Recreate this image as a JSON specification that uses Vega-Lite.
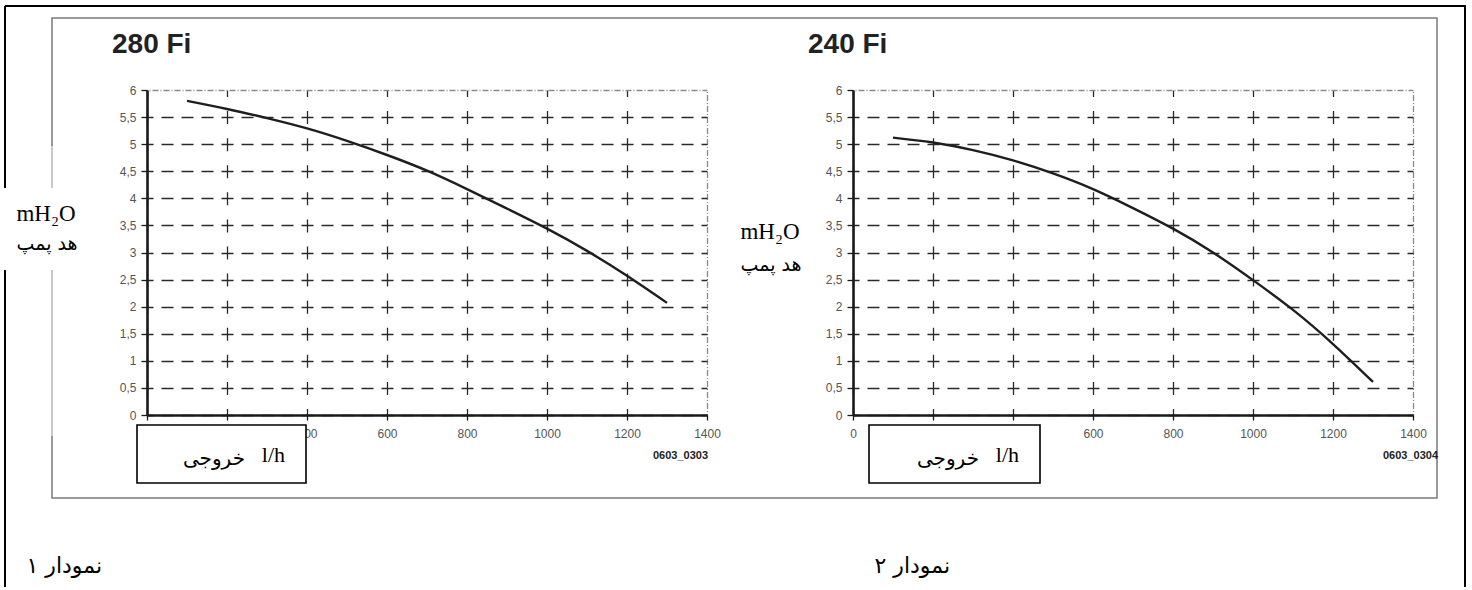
{
  "$schema": "https://vega.github.io/schema/vega-lite/v6.json",
  "background": "white",
  "padding": {"left": 4, "top": 4, "right": 0, "bottom": 0},
  "autosize": {"type": "pad"},
  "bounds": "flush",
  "spacing": 146,
  "config": {
    "view": {"stroke": null},
    "font": "Liberation Sans",
    "axis": {
      "grid": true,
      "gridWidth": 1.3,
      "domainColor": "#1a1a1a",
      "domainWidth": 2.6,
      "tickColor": "#1a1a1a",
      "tickWidth": 1.3,
      "labelColor": "#555555",
      "labelFont": "Liberation Sans",
      "labelFontSize": 12,
      "labelFlush": false,
      "labelOverlap": false
    },
    "axisX": {"tickSize": 5, "labelPadding": 8},
    "axisY": {"tickSize": 6, "labelPadding": 5}
  },
  "datasets": {
    "fi280": [
      {"q": 100, "h": 5.8},
      {"q": 200, "h": 5.65},
      {"q": 300, "h": 5.48},
      {"q": 400, "h": 5.29},
      {"q": 500, "h": 5.06},
      {"q": 600, "h": 4.8},
      {"q": 700, "h": 4.51},
      {"q": 800, "h": 4.17},
      {"q": 900, "h": 3.81},
      {"q": 1000, "h": 3.44},
      {"q": 1100, "h": 3.03},
      {"q": 1200, "h": 2.57},
      {"q": 1300, "h": 2.07}
    ],
    "fi240": [
      {"q": 100, "h": 5.12},
      {"q": 200, "h": 5.03},
      {"q": 300, "h": 4.89},
      {"q": 400, "h": 4.7},
      {"q": 500, "h": 4.46},
      {"q": 600, "h": 4.17},
      {"q": 700, "h": 3.82},
      {"q": 800, "h": 3.44},
      {"q": 900, "h": 3.0},
      {"q": 1000, "h": 2.49},
      {"q": 1100, "h": 1.94},
      {"q": 1200, "h": 1.31},
      {"q": 1300, "h": 0.61}
    ],
    "one": [{}]
  },
  "hconcat": [
    {
      "width": 560,
      "height": 325,
      "resolve": {"axis": {"x": "independent", "y": "independent"}},
      "layer": [
        {
          "data": {"name": "fi280"},
          "mark": {"type": "line", "color": "#1e1e1e", "strokeWidth": 2.4, "interpolate": "natural"},
          "encoding": {
            "x": {"field": "q", "type": "quantitative", "scale": {"domain": [0, 1400], "nice": false, "zero": false},
              "axis": {"title": null, "values": [0, 200, 400, 600, 800, 1000, 1200, 1400], "format": "d",
                "gridColor": {"condition": {"test": "datum.value === 1400", "value": "#8a8a8a"}, "value": "#2a2a2a"},
                "gridDash": {"condition": {"test": "datum.value === 1400", "value": [6, 2, 1, 2]}, "value": [13, 14.083]},
                "gridDashOffset": 6.5}},
            "y": {"field": "h", "type": "quantitative", "scale": {"domain": [0, 6], "nice": false, "zero": false},
              "axis": {"title": null, "values": [0, 0.5, 1, 1.5, 2, 2.5, 3, 3.5, 4, 4.5, 5, 5.5, 6],
                "labelExpr": "replace(format(datum.value, '~g'), '.', ',')",
                "gridColor": {"condition": {"test": "datum.value === 6", "value": "#8a8a8a"}, "value": "#2a2a2a"},
                "gridDash": {"condition": {"test": "datum.value === 6", "value": [6, 2, 1, 2]}, "value": [12, 8]},
                "gridDashOffset": 6}}
          }
        },
        {
          "data": {"name": "one"},
          "mark": {"type": "rect", "filled": false, "stroke": "#7a7a7a", "strokeWidth": 1.5},
          "encoding": {
            "x": {"datum": -237.5, "type": "quantitative", "axis": null},
            "x2": {"datum": 3225},
            "y": {"datum": 7.329, "type": "quantitative", "axis": null},
            "y2": {"datum": -1.532}
          }
        },
        {
          "data": {"name": "one"},
          "mark": {"type": "rule", "stroke": "#d4d4d4", "strokeWidth": 1.6},
          "encoding": {
            "x": {"datum": -237.5, "type": "quantitative", "axis": null},
            "y": {"datum": 4.966, "type": "quantitative", "axis": null},
            "y2": {"datum": -0.387}
          }
        },
        {
          "data": {"name": "one"},
          "mark": {"type": "rule", "stroke": "#000000", "strokeWidth": 2},
          "encoding": {
            "x": {"datum": -355, "type": "quantitative", "axis": null},
            "y": {"datum": 7.551, "type": "quantitative", "axis": null},
            "y2": {"datum": -3.175}
          }
        },
        {
          "data": {"name": "one"},
          "mark": {"type": "rule", "stroke": "#000000", "strokeWidth": 2},
          "encoding": {
            "x": {"datum": -355, "type": "quantitative", "axis": null},
            "x2": {"datum": 3297.5},
            "y": {"datum": 7.551, "type": "quantitative", "axis": null}
          }
        },
        {
          "data": {"name": "one"},
          "mark": {"type": "rect", "fill": "white", "strokeWidth": 0},
          "encoding": {
            "x": {"datum": -357.5, "type": "quantitative", "axis": null},
            "x2": {"datum": -167.5},
            "y": {"datum": 4.191, "type": "quantitative", "axis": null},
            "y2": {"datum": 2.677}
          }
        },
        {
          "data": {"name": "one"},
          "mark": {"type": "rect", "fill": "white", "stroke": "#000000", "strokeWidth": 1.6},
          "encoding": {
            "x": {"datum": -25, "type": "quantitative", "axis": null},
            "x2": {"datum": 397.5},
            "y": {"datum": -0.184, "type": "quantitative", "axis": null},
            "y2": {"datum": -1.255}
          }
        },
        {
          "data": {"name": "one"},
          "mark": {"type": "text", "text": "l/h", "font": "Liberation Serif", "fontSize": 22, "align": "right", "baseline": "middle", "color": "#000000"},
          "encoding": {
            "x": {"datum": 345, "type": "quantitative", "axis": null},
            "y": {"datum": -0.738, "type": "quantitative", "axis": null}
          }
        },
        {
          "data": {"name": "one"},
          "mark": {"type": "text", "text": "خروجی", "font": "DejaVu Sans", "fontSize": 20, "align": "right", "baseline": "middle", "color": "#000000"},
          "encoding": {
            "x": {"datum": 245, "type": "quantitative", "axis": null},
            "y": {"datum": -0.812, "type": "quantitative", "axis": null}
          }
        },
        {
          "data": {"name": "one"},
          "mark": {"type": "text", "text": "mH₂O", "font": "Liberation Serif", "fontSize": 23, "align": "center", "baseline": "middle", "color": "#000000"},
          "encoding": {
            "x": {"datum": -252.5, "type": "quantitative", "axis": null},
            "y": {"datum": 3.711, "type": "quantitative", "axis": null}
          }
        },
        {
          "data": {"name": "one"},
          "mark": {"type": "text", "text": "هد پمپ", "font": "DejaVu Sans", "fontSize": 19, "align": "center", "baseline": "middle", "color": "#000000"},
          "encoding": {
            "x": {"datum": -250, "type": "quantitative", "axis": null},
            "y": {"datum": 3.157, "type": "quantitative", "axis": null}
          }
        },
        {
          "data": {"name": "one"},
          "mark": {"type": "text", "text": "280 Fi", "font": "Liberation Sans", "fontSize": 28, "fontWeight": "bold", "align": "left", "baseline": "alphabetic", "color": "#222222"},
          "encoding": {
            "x": {"datum": -87.5, "type": "quantitative", "axis": null},
            "y": {"datum": 6.683, "type": "quantitative", "axis": null}
          }
        },
        {
          "data": {"name": "one"},
          "mark": {"type": "text", "text": "0603_0303", "font": "Liberation Sans", "fontSize": 11, "fontWeight": "bold", "align": "right", "baseline": "middle", "color": "#222222"},
          "encoding": {
            "x": {"datum": 1402.5, "type": "quantitative", "axis": null},
            "y": {"datum": -0.757, "type": "quantitative", "axis": null}
          }
        },
        {
          "data": {"name": "one"},
          "mark": {"type": "text", "text": "نمودار ۱", "font": "DejaVu Sans", "fontSize": 22, "align": "right", "baseline": "middle", "color": "#000000"},
          "encoding": {
            "x": {"datum": -112.5, "type": "quantitative", "axis": null},
            "y": {"datum": -2.787, "type": "quantitative", "axis": null}
          }
        }
      ]
    },
    {
      "width": 560,
      "height": 325,
      "resolve": {"axis": {"x": "independent", "y": "independent"}},
      "layer": [
        {
          "data": {"name": "fi240"},
          "mark": {"type": "line", "color": "#1e1e1e", "strokeWidth": 2.4, "interpolate": "natural"},
          "encoding": {
            "x": {"field": "q", "type": "quantitative", "scale": {"domain": [0, 1400], "nice": false, "zero": false},
              "axis": {"title": null, "values": [0, 200, 400, 600, 800, 1000, 1200, 1400], "format": "d",
                "gridColor": {"condition": {"test": "datum.value === 1400", "value": "#8a8a8a"}, "value": "#2a2a2a"},
                "gridDash": {"condition": {"test": "datum.value === 1400", "value": [6, 2, 1, 2]}, "value": [13, 14.083]},
                "gridDashOffset": 6.5}},
            "y": {"field": "h", "type": "quantitative", "scale": {"domain": [0, 6], "nice": false, "zero": false},
              "axis": {"title": null, "values": [0, 0.5, 1, 1.5, 2, 2.5, 3, 3.5, 4, 4.5, 5, 5.5, 6],
                "labelExpr": "replace(format(datum.value, '~g'), '.', ',')",
                "gridColor": {"condition": {"test": "datum.value === 6", "value": "#8a8a8a"}, "value": "#2a2a2a"},
                "gridDash": {"condition": {"test": "datum.value === 6", "value": [6, 2, 1, 2]}, "value": [12, 8]},
                "gridDashOffset": 6}}
          }
        },
        {
          "data": {"name": "one"},
          "mark": {"type": "rule", "stroke": "#000000", "strokeWidth": 2},
          "encoding": {
            "x": {"datum": 1530, "type": "quantitative", "axis": null},
            "y": {"datum": 7.551, "type": "quantitative", "axis": null},
            "y2": {"datum": -3.175}
          }
        },
        {
          "data": {"name": "one"},
          "mark": {"type": "rect", "fill": "white", "stroke": "#000000", "strokeWidth": 1.6},
          "encoding": {
            "x": {"datum": 40, "type": "quantitative", "axis": null},
            "x2": {"datum": 467.5},
            "y": {"datum": -0.184, "type": "quantitative", "axis": null},
            "y2": {"datum": -1.255}
          }
        },
        {
          "data": {"name": "one"},
          "mark": {"type": "text", "text": "l/h", "font": "Liberation Serif", "fontSize": 22, "align": "right", "baseline": "middle", "color": "#000000"},
          "encoding": {
            "x": {"datum": 415, "type": "quantitative", "axis": null},
            "y": {"datum": -0.738, "type": "quantitative", "axis": null}
          }
        },
        {
          "data": {"name": "one"},
          "mark": {"type": "text", "text": "خروجی", "font": "DejaVu Sans", "fontSize": 20, "align": "right", "baseline": "middle", "color": "#000000"},
          "encoding": {
            "x": {"datum": 315, "type": "quantitative", "axis": null},
            "y": {"datum": -0.812, "type": "quantitative", "axis": null}
          }
        },
        {
          "data": {"name": "one"},
          "mark": {"type": "text", "text": "mH₂O", "font": "Liberation Serif", "fontSize": 23, "align": "center", "baseline": "middle", "color": "#000000"},
          "encoding": {
            "x": {"datum": -207.5, "type": "quantitative", "axis": null},
            "y": {"datum": 3.379, "type": "quantitative", "axis": null}
          }
        },
        {
          "data": {"name": "one"},
          "mark": {"type": "text", "text": "هد پمپ", "font": "DejaVu Sans", "fontSize": 19, "align": "center", "baseline": "middle", "color": "#000000"},
          "encoding": {
            "x": {"datum": -205, "type": "quantitative", "axis": null},
            "y": {"datum": 2.769, "type": "quantitative", "axis": null}
          }
        },
        {
          "data": {"name": "one"},
          "mark": {"type": "text", "text": "240 Fi", "font": "Liberation Sans", "fontSize": 28, "fontWeight": "bold", "align": "left", "baseline": "alphabetic", "color": "#222222"},
          "encoding": {
            "x": {"datum": -112.5, "type": "quantitative", "axis": null},
            "y": {"datum": 6.683, "type": "quantitative", "axis": null}
          }
        },
        {
          "data": {"name": "one"},
          "mark": {"type": "text", "text": "0603_0304", "font": "Liberation Sans", "fontSize": 11, "fontWeight": "bold", "align": "right", "baseline": "middle", "color": "#222222"},
          "encoding": {
            "x": {"datum": 1462.5, "type": "quantitative", "axis": null},
            "y": {"datum": -0.757, "type": "quantitative", "axis": null}
          }
        },
        {
          "data": {"name": "one"},
          "mark": {"type": "text", "text": "نمودار ۲", "font": "DejaVu Sans", "fontSize": 22, "align": "right", "baseline": "middle", "color": "#000000"},
          "encoding": {
            "x": {"datum": 242.5, "type": "quantitative", "axis": null},
            "y": {"datum": -2.787, "type": "quantitative", "axis": null}
          }
        }
      ]
    }
  ]
}
